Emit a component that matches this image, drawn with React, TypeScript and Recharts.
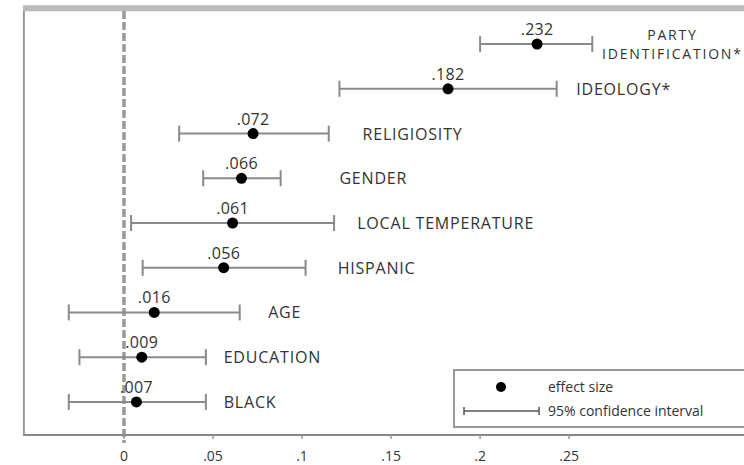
import React from "react";
import {
  ComposedChart,
  Scatter,
  ErrorBar,
  XAxis,
  YAxis,
  ReferenceLine,
} from "recharts";

// rows from top to bottom
const rowNames = [
  "PARTY\nIDENTIFICATION*",
  "IDEOLOGY*",
  "RELIGIOSITY",
  "GENDER",
  "LOCAL TEMPERATURE",
  "HISPANIC",
  "AGE",
  "EDUCATION",
  "BLACK",
];
const effects = [0.232, 0.182, 0.0725, 0.066, 0.061, 0.056, 0.017, 0.01, 0.007];
const effectLabels = [".232", ".182", ".072", ".066", ".061", ".056", ".016", ".009", ".007"];
const ciLow = [0.2, 0.121, 0.031, 0.0445, 0.004, 0.0105, -0.031, -0.025, -0.031];
const ciHigh = [0.263, 0.243, 0.115, 0.088, 0.118, 0.102, 0.065, 0.046, 0.046];
// where each row's name sits, in effect-size units
const labelAt = [0.308, 0.254, 0.134, 0.121, 0.131, 0.12, 0.081, 0.056, 0.056];

const xTicks = [0, 0.05, 0.1, 0.15, 0.2, 0.25];
const xTickLabels = ["0", ".05", ".1", ".15", ".2", ".25"];

const X_MIN = -0.0567;
const X_MAX = 0.36;

const FONT = "'Open Sans', 'DejaVu Sans', sans-serif";
const INK = "#333";

const points = effects.map((v, i) => ({
  x: v,
  y: i,
  label: effectLabels[i],
  err: [v - ciLow[i], ciHigh[i] - v],
}));

const nameRows = rowNames.map((name, i) => ({ x: labelAt[i], y: i, name }));

const DotShape = (props: any) => {
  const { cx, cy, payload } = props;
  return (
    <g>
      <circle cx={cx} cy={cy} r={5.5} fill="#000" />
      <text
        x={cx}
        y={cy - 9}
        textAnchor="middle"
        fontSize={16}
        letterSpacing={0.3}
        fontFamily={FONT}
        fill={INK}
      >
        {payload.label}
      </text>
    </g>
  );
};

const NameShape = (props: any) => {
  const { cx, cy, payload } = props;
  const lines: string[] = payload.name.split("\n");
  if (lines.length > 1) {
    // two-line name, centred over each other
    return (
      <text textAnchor="middle" fontSize={14} letterSpacing={1.8} fontFamily={FONT} fill={INK}>
        {lines.map((l, k) => (
          <tspan key={k} x={cx} y={cy + (k - (lines.length - 1) / 2) * 19} dominantBaseline="central">
            {l}
          </tspan>
        ))}
      </text>
    );
  }
  return (
    <text
      x={cx}
      y={cy}
      dominantBaseline="central"
      fontSize={16}
      letterSpacing={0.8}
      fontFamily={FONT}
      fill={INK}
    >
      {payload.name}
    </text>
  );
};

function LegendBox() {
  return (
    <div
      style={{
        position: "absolute",
        left: 453,
        top: 369,
        width: 330,
        height: 59,
        border: "2px solid #999",
        boxSizing: "border-box",
        background: "#fff",
        fontFamily: FONT,
        fontSize: 14,
        color: INK,
      }}
    >
      <svg width={100} height={56} style={{ position: "absolute", left: 0, top: 0 }}>
        <circle cx={46} cy={16} r={5} fill="#000" />
        <line x1={9} x2={84} y1={40} y2={40} stroke="#555" strokeWidth={1.5} />
        <line x1={9} x2={9} y1={36} y2={44} stroke="#555" strokeWidth={1.5} />
        <line x1={84} x2={84} y1={36} y2={44} stroke="#555" strokeWidth={1.5} />
      </svg>
      <div style={{ position: "absolute", left: 93, top: 6, whiteSpace: "nowrap", lineHeight: "20px" }}>
        effect size
      </div>
      <div style={{ position: "absolute", left: 93, top: 30, whiteSpace: "nowrap", lineHeight: "20px" }}>
        95% confidence interval
      </div>
    </div>
  );
}

export default function App() {
  return (
    <div
      style={{
        position: "fixed",
        left: 0,
        top: 0,
        width: 744,
        height: 465,
        overflow: "hidden",
        background: "#fff",
      }}
    >
      <ComposedChart
        width={765}
        height={465}
        margin={{ top: 11, right: 0, bottom: 0, left: 23 }}
      >
        <XAxis
          type="number"
          dataKey="x"
          domain={[X_MIN, X_MAX]}
          allowDataOverflow
          ticks={xTicks}
          tickFormatter={(v) => xTickLabels[xTicks.indexOf(v)] ?? ""}
          height={30}
          tickSize={4}
          tickMargin={12}
          tickLine={{ stroke: "#999", strokeWidth: 1.5 }}
          axisLine={{ stroke: "#888", strokeWidth: 2 }}
          tick={{ fontSize: 14, fill: INK, fontFamily: FONT }}
        />
        <YAxis
          type="number"
          dataKey="y"
          domain={[-0.74, 8.74]}
          reversed
          allowDataOverflow
          hide
        />
        <ReferenceLine
          segment={[
            { x: X_MIN, y: -0.8 },
            { x: X_MAX, y: -0.8 },
          ]}
          ifOverflow="visible"
          stroke="#bbb"
          strokeWidth={6}
        />
        <ReferenceLine
          x={X_MIN + 0.0005}
          ifOverflow="visible"
          stroke="#999"
          strokeWidth={2}
        />
        <ReferenceLine
          segment={[
            { x: 0, y: -0.74 },
            { x: 0, y: 8.92 },
          ]}
          ifOverflow="visible"
          stroke="#999"
          strokeWidth={3.5}
          strokeDasharray="8 3"
        />
        <Scatter data={points} shape={<DotShape />} isAnimationActive={false}>
          <ErrorBar
            dataKey="err"
            direction="x"
            width={8}
            stroke="#8a8a8a"
            strokeWidth={2}
            isAnimationActive={false}
          />
        </Scatter>
        <Scatter data={nameRows} shape={<NameShape />} isAnimationActive={false} />
      </ComposedChart>
      <LegendBox />
    </div>
  );
}
